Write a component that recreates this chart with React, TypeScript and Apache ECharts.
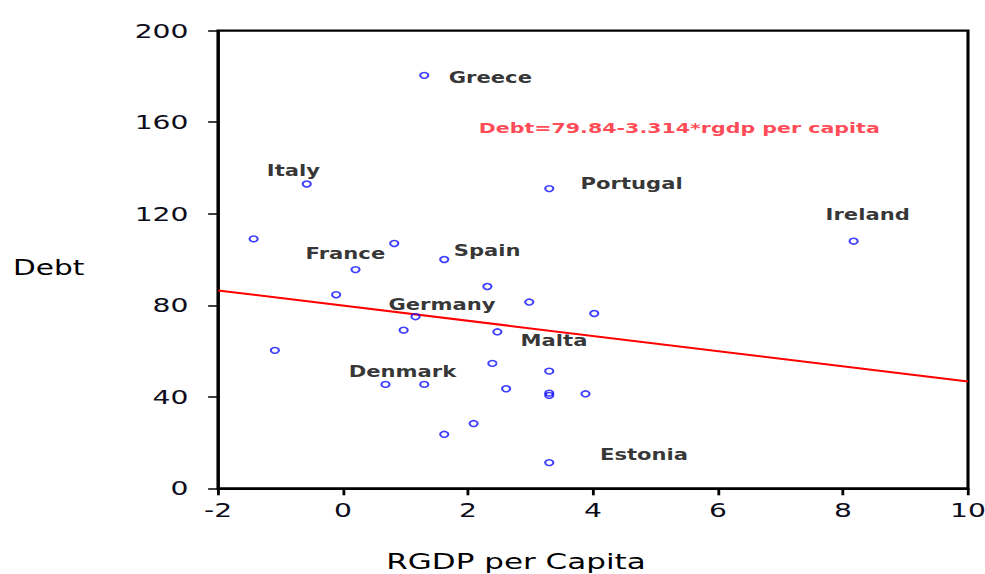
import React, { useEffect, useRef } from "react";
import * as echarts from "echarts";

// Horizontal stretch of the reference rendering
const S = 1.4094;
const W = 985 / 1.4;
const H = 574;

// Scatter points: RGDP per capita (x) vs Debt (y)
const rgdp = [1.3, -0.58, 3.3, -1.43, 0.82, 8.17, 0.2, 1.62, -0.11, 2.31, 2.98, 4.02, 1.16, 0.97, 2.47, -1.09, 2.39, 3.3, 0.68, 1.3, 2.61, 3.3, 3.3, 3.88, 2.09, 1.62, 3.3];
const debt = [180.5, 133, 131, 109, 107, 108, 95.6, 100, 84.6, 88.2, 81.4, 76.4, 75, 69.1, 68.4, 60.3, 54.6, 51.2, 45.4, 45.4, 43.5, 41.6, 40.6, 41.3, 28.3, 23.6, 11.2];

// Country label anchors (data units: left edge of text, vertical middle)
const labelNames = ["Greece", "Italy", "Portugal", "Ireland", "France", "Spain", "Germany", "Malta", "Denmark", "Estonia"];
const labelX = [1.68, -1.23, 3.79, 7.71, -0.61, 1.76, 0.715, 2.83, 0.08, 4.1];
const labelY = [179.6, 139, 133, 119.6, 102.6, 104, 80.3, 64.6, 50.8, 14.8];

// Fitted regression line
const INTERCEPT = 79.84;
const SLOPE = -3.314;
const equationText = "Debt=79.84-3.314*rgdp per capita";
const equationAnchor: [number, number] = [2.16, 157.8];

const X_MIN = -2;
const X_MAX = 10;
const Y_MIN = 0;
const Y_MAX = 200;

export default function App() {
  const ref = useRef<HTMLDivElement>(null);

  useEffect(() => {
    if (!ref.current) return;
    const chart = echarts.init(ref.current, null, { renderer: "svg", width: W, height: H });

    const points = rgdp.map((x, i) => [x, debt[i]]);
    const labels = labelNames.map((n, i) => ({ value: [labelX[i], labelY[i]], name: n }));
    const linePts = [
      [X_MIN, INTERCEPT + SLOPE * X_MIN],
      [X_MAX, INTERCEPT + SLOPE * X_MAX],
    ];

    const gridLeft = 218 / S;
    const gridRight = 968 / S;

    chart.setOption({
      animation: false,
      backgroundColor: "#ffffff",
      grid: {
        left: gridLeft,
        right: W - gridRight,
        top: 30.7,
        bottom: H - 488.3,
        containLabel: false,
        show: true,
        borderColor: "#000",
        borderWidth: 2.2,
        backgroundColor: "transparent",
      },
      xAxis: {
        type: "value",
        min: X_MIN,
        max: X_MAX,
        interval: 2,
        axisLine: { show: true, onZero: false, lineStyle: { color: "#000", width: 2 } },
        axisTick: { show: true, inside: false, length: 7, lineStyle: { color: "#000", width: 2 } },
        axisLabel: {
          margin: 12,
          fontSize: 20,
          fontFamily: "DejaVu Sans",
          color: "#0c0c1a",
        },
        splitLine: { show: false },
      },
      yAxis: {
        type: "value",
        min: Y_MIN,
        max: Y_MAX,
        interval: 40,
        axisLine: { show: true, onZero: false, lineStyle: { color: "#000", width: 2 } },
        axisTick: { show: true, inside: false, length: 7, lineStyle: { color: "#000", width: 1.5 } },
        axisLabel: {
          margin: 21,
          fontSize: 20,
          fontFamily: "DejaVu Sans",
          color: "#0c0c1a",
        },
        splitLine: { show: false },
      },
      graphic: [
        {
          type: "text",
          x: 13 / S,
          y: 267.5,
          style: {
            text: "Debt",
            fontSize: 21,
            fontFamily: "DejaVu Sans",
            fill: "#000",
            align: "left",
            verticalAlign: "middle",
          },
        },
        {
          type: "text",
          x: 516 / S,
          y: 561,
          style: {
            text: "RGDP per Capita",
            fontSize: 22,
            fontFamily: "DejaVu Sans",
            fill: "#000",
            align: "center",
            verticalAlign: "middle",
          },
        },
      ],
      series: [
        {
          type: "line",
          data: linePts,
          showSymbol: false,
          symbol: "none",
          lineStyle: { color: "#ff0000", width: 2 },
          z: 3,
          silent: true,
        },
        {
          type: "scatter",
          data: points,
          symbol: "circle",
          symbolSize: 5.8,
          itemStyle: { color: "rgba(255,255,255,0)", borderColor: "#0f0fff", borderWidth: 1.5 },
          z: 4,
        },
        {
          type: "scatter",
          data: labels,
          symbolSize: 1,
          itemStyle: { color: "rgba(0,0,0,0)" },
          label: {
            show: true,
            position: "right",
            distance: 0,
            formatter: (p: any) => p.name,
            fontSize: 15,
            fontWeight: "bold",
            fontFamily: "DejaVu Sans",
            color: "#000",
          },
          z: 5,
          silent: true,
        },
        {
          type: "scatter",
          data: [{ value: equationAnchor, name: equationText }],
          symbolSize: 1,
          itemStyle: { color: "rgba(0,0,0,0)" },
          label: {
            show: true,
            position: "right",
            distance: 0,
            formatter: (p: any) => p.name,
            fontSize: 14.6,
            fontWeight: "bold",
            fontFamily: "DejaVu Sans",
            color: "#ff1a2a",
          },
          z: 5,
          silent: true,
        },
      ],
    });

    return () => chart.dispose();
  }, []);

  return (
    <div
      style={{
        position: "fixed",
        left: 0,
        top: 0,
        width: 985,
        height: 574,
        overflow: "hidden",
        background: "#fff",
      }}
    >
      <div
        ref={ref}
        style={{
          width: W,
          height: H,
          transform: `scaleX(${S})`,
          transformOrigin: "0 0",
        }}
      />
    </div>
  );
}
